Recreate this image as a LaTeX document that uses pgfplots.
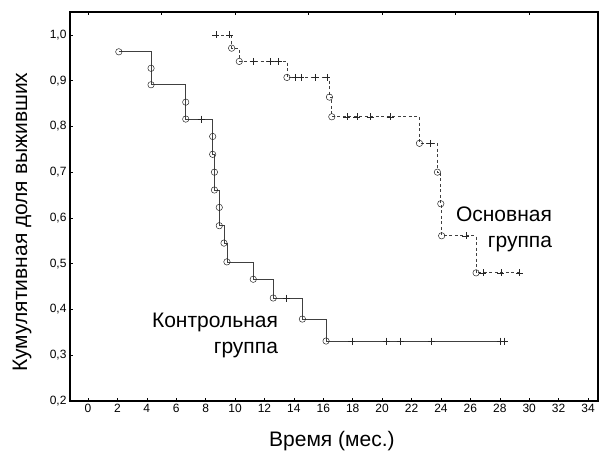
\documentclass[border=0pt]{standalone}
\usepackage{fontspec}
\setmainfont{Liberation Sans}
\usepackage{pgfplots}
\pgfplotsset{compat=1.18}

\begin{document}
\begin{tikzpicture}
\pgfplotsset{
  kmbase/.style={scale only axis, width=528bp, height=389bp,
    xmin=-1.22, xmax=34.68, ymin=0.2, ymax=1.05}
}
\begin{axis}[kmbase, name=ax,
  axis line style={line width=1.6bp, black},
  xtick={0,2,4,6,8,10,12,14,16,18,20,22,24,26,28,30,32,34},
  ytick={0.2,0.3,0.4,0.5,0.6,0.7,0.8,0.9,1.0},
  tick align=inside, major tick length=3bp,
  tick style={black, line width=0.5bp},
  xtick pos=bottom, ytick pos=left,
  ticklabel style={font=\fontsize{12bp}{14bp}\selectfont},
  /pgf/number format/assume math mode=true,
  yticklabel style={/pgf/number format/.cd, use comma, fixed, fixed zerofill, precision=1},
  clip=false,
]
% control group (solid)
\addplot[draw=black!75, line width=0.7bp, mark=none] coordinates {
(2.1,0.963)(4.29,0.963)(4.29,0.891)(6.65,0.891)(6.65,0.816)(8.48,0.816)(8.48,0.739)(8.6,0.739)(8.6,0.661)(8.93,0.661)(8.93,0.583)(9.25,0.583)(9.25,0.545)(9.45,0.545)(9.45,0.504)(11.24,0.504)(11.24,0.466)(12.6,0.466)(12.6,0.425)(14.58,0.425)(14.58,0.379)(16.19,0.379)(16.19,0.331)(28.35,0.331)};
% main group (dashed)
\addplot[draw=black!75, line width=0.7bp, dash pattern=on 3bp off 2.5bp, mark=none] coordinates {
(8.69,1.0)(9.77,1.0)(9.77,0.971)(10.29,0.971)(10.29,0.942)(13.53,0.942)(13.53,0.907)(16.42,0.907)(16.42,0.864)(16.58,0.864)(16.58,0.821)(22.54,0.821)(22.54,0.763)(23.76,0.763)(23.76,0.700)(23.99,0.700)(23.99,0.631)(24.05,0.631)(24.05,0.561)(26.39,0.561)(26.39,0.480)(29.34,0.480)};
% censored (+)
\addplot[only marks, mark=+, mark size=3.5bp, mark options={draw=black!85, line width=0.5bp}] coordinates {
(7.69,0.816)(13.47,0.425)(17.94,0.331)(20.27,0.331)(21.22,0.331)(23.33,0.331)(28.03,0.331)(28.3,0.331)};
\addplot[only marks, mark=+, mark size=3.5bp, mark options={draw=black!85, line width=0.5bp}] coordinates {
(8.69,1.0)(9.61,1.0)(11.25,0.942)(12.38,0.942)(12.95,0.942)(14.08,0.907)(14.47,0.907)(15.44,0.907)(16.24,0.907)(17.6,0.821)(18.28,0.821)(19.18,0.821)(20.54,0.821)(23.27,0.763)(25.7,0.561)(26.85,0.48)(28.07,0.48)(29.34,0.48)};
% events (o)
\addplot[only marks, mark=o, mark size=3.2bp, mark options={draw=black!85, fill=white, line width=0.5bp}] coordinates {
(2.1,0.963)(4.29,0.927)(4.29,0.891)(6.65,0.853)(6.65,0.816)(8.48,0.778)(8.48,0.739)(8.6,0.700)(8.6,0.661)(8.93,0.623)(8.93,0.583)(9.25,0.545)(9.45,0.504)(11.24,0.466)(12.6,0.425)(14.58,0.379)(16.19,0.331)};
\addplot[only marks, mark=o, mark size=3.2bp, mark options={draw=black!85, fill=white, line width=0.5bp}] coordinates {
(9.77,0.971)(10.29,0.942)(13.53,0.907)(16.42,0.864)(16.58,0.821)(22.54,0.763)(23.76,0.700)(23.99,0.631)(24.05,0.561)(26.39,0.480)};
\node[anchor=east, align=right, font=\fontsize{21bp}{26bp}\selectfont, inner sep=0pt] at (axis cs:31.56,0.576) {Основная\\группа};
\node[anchor=east, align=right, font=\fontsize{21bp}{26bp}\selectfont, inner sep=0pt] at (axis cs:12.93,0.343) {Контрольная\\группа};
\node[rotate=90, font=\fontsize{21bp}{25bp}\selectfont] at (axis description cs:-0.0909,0.46) {Кумулятивная доля выживших};
\node[font=\fontsize{21bp}{25bp}\selectfont] at (axis description cs:0.496,-0.103) {Время (мес.)};
\end{axis}
\begin{axis}[kmbase, axis x line*=top, axis y line=none,
  axis line style={line width=1.6bp, black},
  xtick={0,5,10,15,20,25,30}, xticklabels={},
  tick align=inside, major tick length=3bp, tick style={black, line width=0.5bp}]
\end{axis}
\path ([shift={(-70bp,-53bp)}]ax.south west) rectangle ([shift={(2bp,12bp)}]ax.north east);
\end{tikzpicture}
\end{document}
